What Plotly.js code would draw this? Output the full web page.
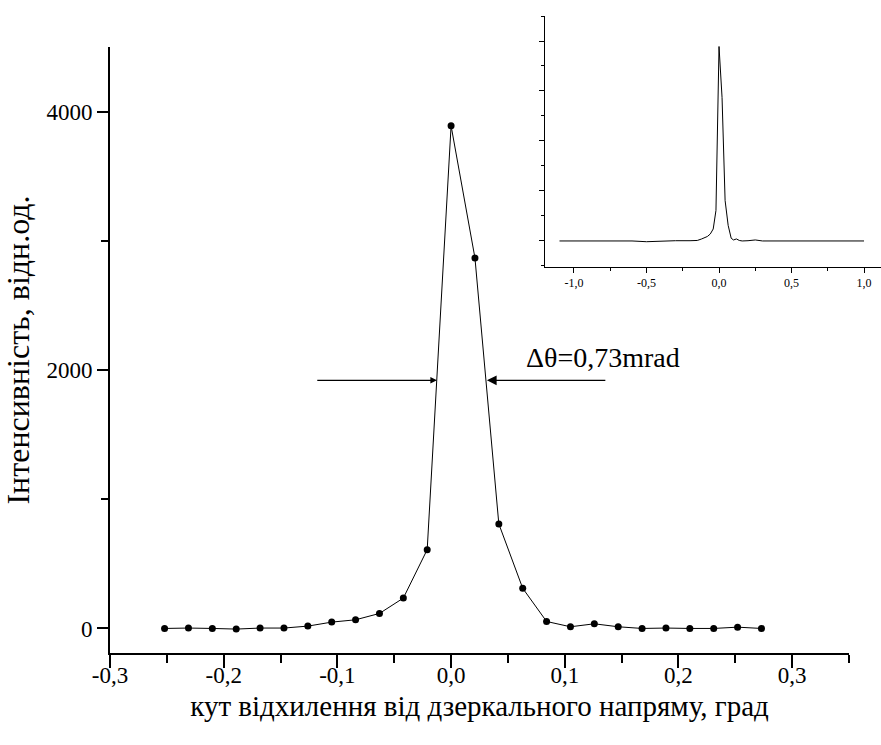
<!DOCTYPE html>
<html>
<head>
<meta charset="utf-8">
<script src="https://cdn.plot.ly/plotly-3.0.1.min.js"></script>
<style>html,body{margin:0;padding:0;background:#fff;}#chart{width:881px;height:745px;}</style>
</head>
<body>
<div id="chart"></div>
<script>
// Main scan (degrees, relative units)
const angleDeg = [-0.252, -0.231, -0.210, -0.189, -0.168, -0.147, -0.126, -0.105, -0.084, -0.063, -0.042, -0.021,
                  0.000, 0.021, 0.042, 0.063, 0.084, 0.105, 0.126, 0.147, 0.168, 0.189, 0.210, 0.231, 0.252, 0.273];
const intensity = [0, 3, 0, -5, 3, 3, 18, 49, 67, 116, 235, 610,
                   3890, 2868, 809, 311, 54, 13, 36, 13, 0, 3, 0, 0, 10, 0];

// Inset wide scan
const insetAngle = [-1.10, -1.00, -0.90, -0.80, -0.70, -0.60, -0.50, -0.40, -0.30, -0.20, -0.15, -0.12, -0.10, -0.08,
                    -0.06, -0.04, -0.021, 0.000, 0.021, 0.042, 0.063, 0.084, 0.10, 0.12, 0.14, 0.16, 0.20, 0.25,
                    0.30, 0.40, 0.50, 0.60, 0.70, 0.80, 0.90, 1.00];
const insetIntensity = [0, 0, 0, 0, 5, 0, -15, 0, 5, 5, 10, 40, 60, 90,
                        140, 240, 610, 3890, 2868, 809, 311, 54, 20, 40, 10, 0, 5, 20,
                        0, 0, 5, 0, 0, 0, 0, 0];

const xTickVals = [-0.3, -0.2, -0.1, 0.0, 0.1, 0.2, 0.3];
const xTickText = ['-0,3', '-0,2', '-0,1', '0,0', '0,1', '0,2', '0,3'];
const yTickVals = [0, 2000, 4000];
const yTickText = ['0', '2000', '4000'];
const insetTickVals = [-1.0, -0.5, 0.0, 0.5, 1.0];
const insetTickText = ['-1,0', '-0,5', '0,0', '0,5', '1,0'];

const serif = '"Liberation Serif", Tinos, "Times New Roman", Times, serif';

const traces = [
  {x: angleDeg, y: intensity, type: 'scatter', mode: 'lines+markers',
   line: {color: '#000', width: 1}, marker: {color: '#000', size: 7},
   xaxis: 'x', yaxis: 'y', hoverinfo: 'skip'},
  {x: insetAngle, y: insetIntensity, type: 'scatter', mode: 'lines',
   line: {color: '#000', width: 1}, xaxis: 'x2', yaxis: 'y2', hoverinfo: 'skip'}
];

const layout = {
  width: 881, height: 745,
  margin: {l: 110, r: 0, t: 16, b: 92},
  paper_bgcolor: '#fff', plot_bgcolor: 'rgba(0,0,0,0)',
  showlegend: false,
  font: {family: serif, color: '#000'},
  xaxis: {
    domain: [0, 0.9585], range: [-0.3, 0.35], anchor: 'y',
    showline: true, linecolor: '#000', linewidth: 2, showgrid: false, zeroline: false,
    ticks: 'outside', ticklen: 13, tickwidth: 2, tickcolor: '#000',
    tickvals: xTickVals, ticktext: xTickText, tickfont: {family: serif, size: 23},
    ticklabelstandoff: -13,
    minor: {ticks: 'outside', dtick: 0.05, tick0: 0, ticklen: 8, tickwidth: 2, tickcolor: '#000', showgrid: false},
    title: {text: 'кут відхилення від дзеркального напряму, град', font: {family: serif, size: 29}, standoff: 9}
  },
  yaxis: {
    domain: [0, 0.9513], range: [-190, 4500], anchor: 'x',
    showline: true, linecolor: '#000', linewidth: 2, showgrid: false, zeroline: false,
    ticks: 'outside', ticklen: 11, tickwidth: 2, tickcolor: '#000',
    tickvals: yTickVals, ticktext: yTickText, tickfont: {family: serif, size: 23},
    minor: {ticks: 'outside', dtick: 1000, tick0: 0, ticklen: 7, tickwidth: 2, tickcolor: '#000', showgrid: false},
    title: {text: 'Інтенсивність, відн.од.', font: {family: serif, size: 32}, standoff: 12}
  },
  xaxis2: {
    domain: [0.5642, 1.0], range: [-1.2, 1.117], anchor: 'y2',
    showline: true, linecolor: '#000', linewidth: 1, showgrid: false, zeroline: false,
    ticks: 'outside', ticklen: 5, tickwidth: 1, tickcolor: '#000',
    tickvals: insetTickVals, ticktext: insetTickText, tickfont: {family: serif, size: 12},
    minor: {ticks: 'outside', dtick: 0.25, tick0: 0, ticklen: 3, tickwidth: 1, tickcolor: '#000', showgrid: false}
  },
  yaxis2: {
    domain: [0.6065, 1.0], range: [-514, 4500], anchor: 'x2',
    showline: true, linecolor: '#000', linewidth: 1, showgrid: false, zeroline: false,
    ticks: 'outside', ticklen: 5, tickwidth: 1, tickcolor: '#000', dtick: 1000, tick0: 0,
    showticklabels: false,
    minor: {ticks: 'outside', dtick: 500, tick0: 0, ticklen: 3, tickwidth: 1, tickcolor: '#000', showgrid: false}
  },
  annotations: [
    {x: -0.0125, y: 1920, ax: -0.119, ay: 1920, axref: 'x', ayref: 'y', xref: 'x', yref: 'y',
     text: '', showarrow: true, arrowhead: 2, arrowsize: 1, arrowwidth: 1.3, arrowcolor: '#000'},
    {x: 0.0315, y: 1920, ax: 0.137, ay: 1920, axref: 'x', ayref: 'y', xref: 'x', yref: 'y',
     text: '', showarrow: true, arrowhead: 2, arrowsize: 1.5, arrowwidth: 1.3, arrowcolor: '#000'},
    {x: 0.064, y: 2100, xref: 'x', yref: 'y', xanchor: 'left', yanchor: 'middle',
     text: 'Δθ=0,73mrad', showarrow: false, font: {family: serif, size: 28, color: '#000'}}
  ]
};

Plotly.newPlot('chart', traces, layout, {displayModeBar: false, staticPlot: true});
</script>
</body>
</html>
